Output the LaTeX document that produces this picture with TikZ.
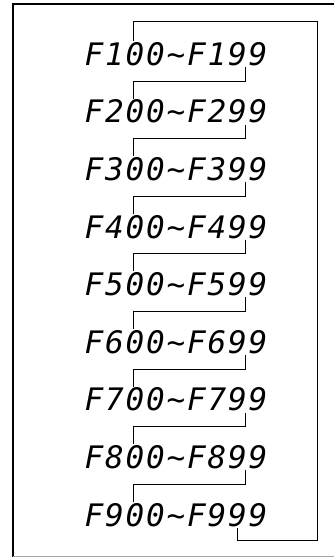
\documentclass[tikz,border=0pt]{standalone}
\usepackage{fontspec}
\newfontfamily\segfont{DejaVu Sans Mono}[LetterSpace=6]
\begin{document}
\begin{tikzpicture}[x=1pt,y=-1pt,
  row/.style={inner sep=0pt, font=\segfont\itshape\fontsize{31}{31}\selectfont},
  link/.style={line width=1pt},
  frame/.style={line width=1.4pt}]
\useasboundingbox (0,0) rectangle (333,557);
\draw[frame] (13,557) -- (13,4) -- (340,4);
\draw[gray!70, line width=1pt] (13,556) -- (340,556);
\foreach \k in {1,...,9} {
  \node[row] (r\k) at (176,{54+57.6*(\k-1)}) {F\k00\char`\~F\k99};
}
\foreach \k [evaluate=\k as \n using int(\k+1)] in {1,...,8} {
  \draw[link] ([shift={(69,13)}]r\k.center) -- ++(0,14) -| ([shift={(-43,-13)}]r\n.center);
}
\draw[link] ([shift={(-43,-13)}]r1.center) -- ++(0,-20) -| ++(184,0) coordinate (tr)
  -- (tr |- 0,540) -| ([shift={(61,13)}]r9.center);
\end{tikzpicture}
\end{document}
